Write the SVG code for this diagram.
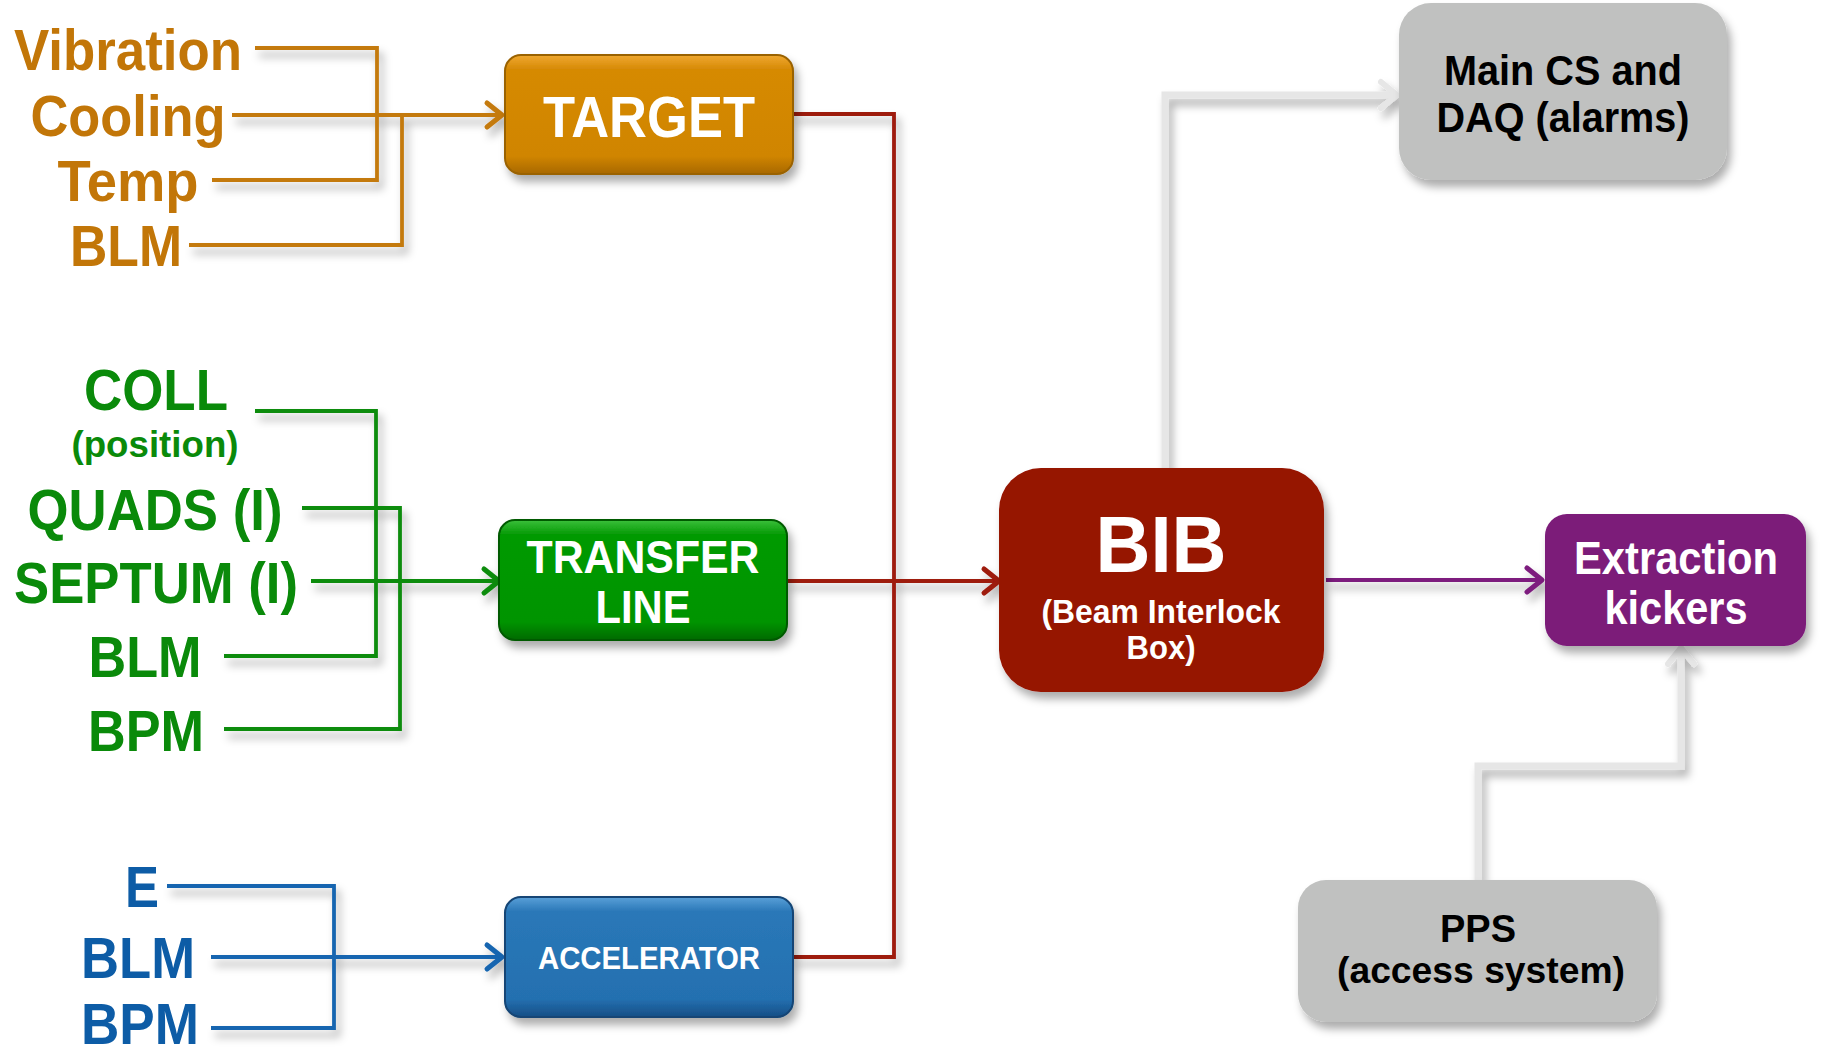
<svg xmlns="http://www.w3.org/2000/svg" width="1821" height="1050" viewBox="0 0 1821 1050">
<style>
  text { font-family: "Liberation Sans", Arial, sans-serif; font-weight: bold; text-anchor: middle; }
  .lbl { font-size: 58px; }
  .org { fill: #c27608; }
  .grn { fill: #0a8a0a; }
  .blu { fill: #0d5ca6; }
  .wt { fill: #ffffff; }
  .bk { fill: #000000; }
  .c { fill: none; stroke-width: 3.8; stroke-linejoin: miter; }
  .co { stroke: #c47a10; }
  .cg { stroke: #0e8c0e; }
  .cb { stroke: #1565b0; }
  .cr { stroke: #9e1a0c; }
  .cp { stroke: #7d1f7e; }
  .cy { stroke: #e6e6e6; stroke-width: 7; }
</style>
<defs>
  <filter id="sh" filterUnits="userSpaceOnUse" x="0" y="0" width="1821" height="1050">
    <feDropShadow dx="4" dy="7" stdDeviation="4" flood-color="#000" flood-opacity="0.32"/>
  </filter>
  <linearGradient id="gT" x1="0" y1="0" x2="0" y2="1">
    <stop offset="0" stop-color="#f0a830"/><stop offset="0.12" stop-color="#d68a06"/><stop offset="0.85" stop-color="#d08500"/><stop offset="1" stop-color="#a86800"/>
  </linearGradient>
  <linearGradient id="gG" x1="0" y1="0" x2="0" y2="1">
    <stop offset="0" stop-color="#3cc03c"/><stop offset="0.12" stop-color="#069a06"/><stop offset="0.85" stop-color="#029402"/><stop offset="1" stop-color="#016a01"/>
  </linearGradient>
  <linearGradient id="gB" x1="0" y1="0" x2="0" y2="1">
    <stop offset="0" stop-color="#5aa0d8"/><stop offset="0.12" stop-color="#2a78b8"/><stop offset="0.85" stop-color="#2470b0"/><stop offset="1" stop-color="#164e86"/>
  </linearGradient>
  <marker id="aO" markerUnits="userSpaceOnUse" markerWidth="24" markerHeight="32" refX="19" refY="16" orient="auto"><path d="M4,4 L19,16 L4,28" fill="none" stroke="#c47a10" stroke-width="5" stroke-linecap="round" stroke-linejoin="round"/></marker>
  <marker id="aG" markerUnits="userSpaceOnUse" markerWidth="24" markerHeight="32" refX="19" refY="16" orient="auto"><path d="M4,4 L19,16 L4,28" fill="none" stroke="#0e8c0e" stroke-width="5" stroke-linecap="round" stroke-linejoin="round"/></marker>
  <marker id="aB" markerUnits="userSpaceOnUse" markerWidth="24" markerHeight="32" refX="19" refY="16" orient="auto"><path d="M4,4 L19,16 L4,28" fill="none" stroke="#1565b0" stroke-width="5" stroke-linecap="round" stroke-linejoin="round"/></marker>
  <marker id="aR" markerUnits="userSpaceOnUse" markerWidth="24" markerHeight="32" refX="19" refY="16" orient="auto"><path d="M4,4 L19,16 L4,28" fill="none" stroke="#9e1a0c" stroke-width="5" stroke-linecap="round" stroke-linejoin="round"/></marker>
  <marker id="aP" markerUnits="userSpaceOnUse" markerWidth="24" markerHeight="32" refX="19" refY="16" orient="auto"><path d="M4,4 L19,16 L4,28" fill="none" stroke="#7d1f7e" stroke-width="5" stroke-linecap="round" stroke-linejoin="round"/></marker>
  <marker id="aY" markerUnits="userSpaceOnUse" markerWidth="26" markerHeight="34" refX="20" refY="17" orient="auto"><path d="M4,4 L20,17 L4,30" fill="none" stroke="#e6e6e6" stroke-width="6" stroke-linecap="round" stroke-linejoin="round"/></marker>
</defs>
<rect width="1821" height="1050" fill="#ffffff"/>

<g id="connectors" filter="url(#sh)">
  <path class="c co" d="M255,48 H377 V180 H212"/>
  <path class="c co" d="M189,245 H402 V115"/>
  <path class="c co" d="M232,115 H502" marker-end="url(#aO)"/>
  <path class="c cg" d="M255,411 H376 V656 H224"/>
  <path class="c cg" d="M302,508 H400 V729 H224"/>
  <path class="c cg" d="M311,581 H499" marker-end="url(#aG)"/>
  <path class="c cb" d="M167,886 H334 V1028 H211"/>
  <path class="c cb" d="M211,957 H502" marker-end="url(#aB)"/>
  <path class="c cr" d="M793,114 H894 V957 H793"/>
  <path class="c cr" d="M787,581 H999" marker-end="url(#aR)"/>
  <path class="c cp" d="M1326,580 H1542" marker-end="url(#aP)"/>
  <path class="c cy" d="M1165,468 V95 H1397" marker-end="url(#aY)"/>
  <path class="c cy" d="M1478,880 V766 H1681 V648" marker-end="url(#aY)"/>
</g>

<g id="labels-target">
  <text class="lbl org" x="128" y="70" textLength="228" lengthAdjust="spacingAndGlyphs">Vibration</text>
  <text class="lbl org" x="128" y="136" textLength="195" lengthAdjust="spacingAndGlyphs">Cooling</text>
  <text class="lbl org" x="128" y="201" textLength="141" lengthAdjust="spacingAndGlyphs">Temp</text>
  <text class="lbl org" x="126" y="266" textLength="112" lengthAdjust="spacingAndGlyphs">BLM</text>
</g>
<g id="labels-transfer">
  <text class="lbl grn" x="156" y="410" textLength="144" lengthAdjust="spacingAndGlyphs">COLL</text>
  <text class="grn" x="155" y="457" font-size="37" textLength="167" lengthAdjust="spacingAndGlyphs">(position)</text>
  <text class="lbl grn" x="155" y="530" textLength="255" lengthAdjust="spacingAndGlyphs">QUADS (I)</text>
  <text class="lbl grn" x="156" y="603" textLength="284" lengthAdjust="spacingAndGlyphs">SEPTUM (I)</text>
  <text class="lbl grn" x="145" y="677" textLength="113" lengthAdjust="spacingAndGlyphs">BLM</text>
  <text class="lbl grn" x="146" y="751" textLength="116" lengthAdjust="spacingAndGlyphs">BPM</text>
</g>
<g id="labels-accelerator">
  <text class="lbl blu" x="142" y="907" textLength="34" lengthAdjust="spacingAndGlyphs">E</text>
  <text class="lbl blu" x="138" y="978" textLength="114" lengthAdjust="spacingAndGlyphs">BLM</text>
  <text class="lbl blu" x="140" y="1044" textLength="118" lengthAdjust="spacingAndGlyphs">BPM</text>
</g>

<g id="node-target">
  <rect x="505" y="55" width="288" height="119" rx="16" fill="url(#gT)" stroke="#9a6200" stroke-width="2" filter="url(#sh)"/>
  <text class="wt" x="649" y="137" font-size="58" textLength="212" lengthAdjust="spacingAndGlyphs">TARGET</text>
</g>
<g id="node-transfer-line">
  <rect x="499" y="520" width="288" height="120" rx="16" fill="url(#gG)" stroke="#015a01" stroke-width="2" filter="url(#sh)"/>
  <text class="wt" x="643" y="573" font-size="46" textLength="233" lengthAdjust="spacingAndGlyphs">TRANSFER</text>
  <text class="wt" x="643" y="623" font-size="46" textLength="95" lengthAdjust="spacingAndGlyphs">LINE</text>
</g>
<g id="node-accelerator">
  <rect x="505" y="897" width="288" height="120" rx="16" fill="url(#gB)" stroke="#124474" stroke-width="2" filter="url(#sh)"/>
  <text class="wt" x="649" y="969" font-size="32" textLength="222" lengthAdjust="spacingAndGlyphs">ACCELERATOR</text>
</g>
<g id="node-bib">
  <rect x="999" y="468" width="325" height="224" rx="42" fill="#961300" filter="url(#sh)"/>
  <text class="wt" x="1161" y="572" font-size="80" textLength="131" lengthAdjust="spacingAndGlyphs">BIB</text>
  <text class="wt" x="1161" y="623" font-size="34" textLength="239" lengthAdjust="spacingAndGlyphs">(Beam Interlock</text>
  <text class="wt" x="1161" y="659" font-size="34" textLength="69" lengthAdjust="spacingAndGlyphs">Box)</text>
</g>
<g id="node-main-cs">
  <rect x="1399" y="3" width="328" height="177" rx="32" fill="#c0c1c0" filter="url(#sh)"/>
  <text class="bk" x="1563" y="85" font-size="42" textLength="238" lengthAdjust="spacingAndGlyphs">Main CS and</text>
  <text class="bk" x="1563" y="132" font-size="42" textLength="253" lengthAdjust="spacingAndGlyphs">DAQ (alarms)</text>
</g>
<g id="node-extraction">
  <rect x="1545" y="514" width="261" height="132" rx="22" fill="#7b1a79" filter="url(#sh)"/>
  <text class="wt" x="1676" y="574" font-size="46" textLength="204" lengthAdjust="spacingAndGlyphs">Extraction</text>
  <text class="wt" x="1676" y="624" font-size="46" textLength="143" lengthAdjust="spacingAndGlyphs">kickers</text>
</g>
<g id="node-pps">
  <rect x="1298" y="880" width="359" height="142" rx="28" fill="#c0c1c0" filter="url(#sh)"/>
  <text class="bk" x="1478" y="942" font-size="38">PPS</text>
  <text class="bk" x="1481" y="983" font-size="37" textLength="288" lengthAdjust="spacingAndGlyphs">(access system)</text>
</g>
</svg>
